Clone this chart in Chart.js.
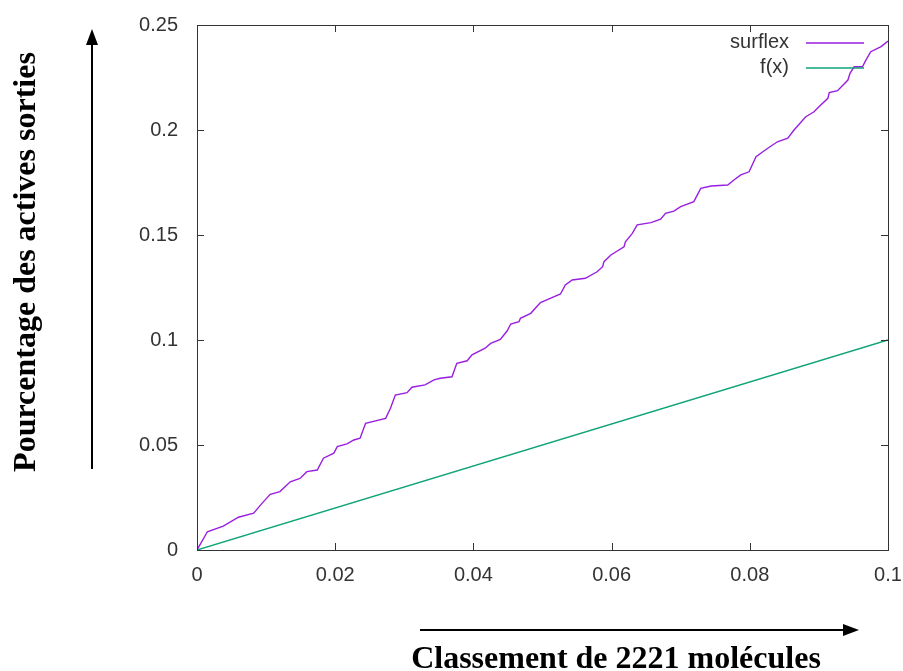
<!DOCTYPE html>
<html>
<head>
<meta charset="utf-8">
<script src="https://cdn.jsdelivr.net/npm/chart.js@4/dist/chart.umd.min.js"></script>
<style>
html,body{margin:0;padding:0;background:#fff;}
#wrap{width:903px;height:671px;position:relative;}
</style>
</head>
<body>
<div id="wrap"><canvas id="c" width="903" height="671"></canvas></div>
<script>
// ---- data ----
const surflexX = [0, 0.0015, 0.0038, 0.0060, 0.0082, 0.0094, 0.0106, 0.0120, 0.0135, 0.0149, 0.0159, 0.0174, 0.0183, 0.0198, 0.0203, 0.0217, 0.0227, 0.0236, 0.0244, 0.0273, 0.0280, 0.0287, 0.0304, 0.0311, 0.0330, 0.0343, 0.0352, 0.0369, 0.0376, 0.0391, 0.0398, 0.0417, 0.0425, 0.0439, 0.0449, 0.0454, 0.0466, 0.0468, 0.0483, 0.0497, 0.0512, 0.0526, 0.0533, 0.0543, 0.0562, 0.0579, 0.0587, 0.0589, 0.0599, 0.0618, 0.0620, 0.0630, 0.0637, 0.0657, 0.0671, 0.0678, 0.0690, 0.0700, 0.0719, 0.0729, 0.0744, 0.0768, 0.0777, 0.0787, 0.0799, 0.0809, 0.0826, 0.0840, 0.0855, 0.0864, 0.0881, 0.0893, 0.0900, 0.0913, 0.0915, 0.0927, 0.0942, 0.0945, 0.0951, 0.0963, 0.0968, 0.0975, 0.0990, 0.1000];
const surflexY = [0, 0.0087, 0.0114, 0.0156, 0.0175, 0.0222, 0.0265, 0.0278, 0.0325, 0.0341, 0.0373, 0.0381, 0.0437, 0.0461, 0.0492, 0.0505, 0.0524, 0.0532, 0.0603, 0.0627, 0.0675, 0.0738, 0.0749, 0.0775, 0.0786, 0.0810, 0.0818, 0.0825, 0.0889, 0.0901, 0.0929, 0.0961, 0.0984, 0.1003, 0.1044, 0.1076, 0.1087, 0.1103, 0.1127, 0.1178, 0.1199, 0.1219, 0.1262, 0.1286, 0.1294, 0.1325, 0.1349, 0.1373, 0.1405, 0.1444, 0.1468, 0.1508, 0.1548, 0.1559, 0.1575, 0.1603, 0.1614, 0.1635, 0.1659, 0.1722, 0.1733, 0.1738, 0.1762, 0.1786, 0.1801, 0.1873, 0.1913, 0.1944, 0.1961, 0.2000, 0.2063, 0.2087, 0.2111, 0.2151, 0.2178, 0.2187, 0.2238, 0.2270, 0.2301, 0.2301, 0.2333, 0.2373, 0.2397, 0.2423];
const fxX = [0, 0.1];
const fxY = [0, 0.1];
const seriesNames = ["surflex", "f(x)"];
const xTickLabels = ["0", "0.02", "0.04", "0.06", "0.08", "0.1"];
const yTickLabels = ["0", "0.05", "0.1", "0.15", "0.2", "0.25"];
const yAxisTitle = "Pourcentage des actives sorties";
const xAxisTitle = "Classement de 2221 molécules";

const PURPLE = "#9a1ee0";
const GREEN = "#0fa378";

const framePlugin = {
  id: 'frame',
  afterDatasetsDraw(chart) {
    const ctx = chart.ctx, a = chart.chartArea;
    const xs = chart.scales.x, ys = chart.scales.y;
    ctx.save();
    ctx.strokeStyle = "#333";
    ctx.lineWidth = 1;
    ctx.strokeRect(Math.round(a.left) + 0.5, Math.round(a.top) + 0.5, Math.round(a.right - a.left), Math.round(a.bottom - a.top));
    ctx.beginPath();
    const L = 7;
    xs.ticks.forEach(t => {
      const px = Math.round(xs.getPixelForValue(t.value)) + 0.5;
      ctx.moveTo(px, a.bottom); ctx.lineTo(px, a.bottom - L);
      ctx.moveTo(px, a.top); ctx.lineTo(px, a.top + L);
    });
    ys.ticks.forEach(t => {
      const py = Math.round(ys.getPixelForValue(t.value)) + 0.5;
      ctx.moveTo(a.left, py); ctx.lineTo(a.left + L, py);
      ctx.moveTo(a.right, py); ctx.lineTo(a.right - L, py);
    });
    ctx.stroke();

    // legend (gnuplot style: text then sample)
    ctx.font = "20px 'Liberation Sans', Arial, sans-serif";
    ctx.fillStyle = "#333";
    ctx.textAlign = "right";
    ctx.textBaseline = "middle";
    const rows = [42, 67];
    chart.data.datasets.forEach((ds, i) => {
      const y = rows[i];
      ctx.fillText(ds.label, 789, y);
      ctx.beginPath();
      ctx.strokeStyle = ds.borderColor;
      ctx.lineWidth = 1.3;
      ctx.moveTo(806, y + 1); ctx.lineTo(864, y + 1);
      ctx.stroke();
    });

    // axis titles
    ctx.fillStyle = "#000";
    ctx.font = "bold 32px 'Liberation Serif', 'Times New Roman', serif";
    ctx.textAlign = "center";
    ctx.textBaseline = "middle";
    ctx.save();
    ctx.translate(27, 262);
    ctx.rotate(-Math.PI / 2);
    ctx.fillText(yAxisTitle, 0, 0);
    ctx.restore();
    ctx.fillText(xAxisTitle, 616, 660);

    // arrows
    ctx.strokeStyle = "#000";
    ctx.fillStyle = "#000";
    ctx.lineWidth = 2;
    ctx.beginPath();
    ctx.moveTo(92, 469); ctx.lineTo(92, 40);
    ctx.stroke();
    ctx.beginPath();
    ctx.moveTo(92, 29); ctx.lineTo(86, 45); ctx.lineTo(98, 45); ctx.closePath(); ctx.fill();
    ctx.beginPath();
    ctx.moveTo(420, 630); ctx.lineTo(846, 630);
    ctx.stroke();
    ctx.beginPath();
    ctx.moveTo(859, 630); ctx.lineTo(843, 624); ctx.lineTo(843, 636); ctx.closePath(); ctx.fill();
    ctx.restore();
  }
};

new Chart(document.getElementById('c'), {
  type: 'scatter',
  data: {
    datasets: [
      {
        label: seriesNames[0],
        data: surflexX.map((x, i) => ({x: x, y: surflexY[i]})),
        showLine: true, borderColor: PURPLE, backgroundColor: PURPLE,
        borderWidth: 1.4, pointRadius: 0, tension: 0, order: 1
      },
      {
        label: seriesNames[1],
        data: fxX.map((x, i) => ({x: x, y: fxY[i]})),
        showLine: true, borderColor: GREEN, backgroundColor: GREEN,
        borderWidth: 1.4, pointRadius: 0, tension: 0, order: 0
      }
    ]
  },
  options: {
    responsive: false,
    animation: false,
    events: [],
    layout: { padding: { left: 0, right: 15, top: 25, bottom: 0 } },
    plugins: { legend: { display: false }, tooltip: { enabled: false } },
    scales: {
      x: {
        type: 'linear', min: 0, max: 0.1,
        afterFit(s) { s.height = 121; s.paddingLeft = 0; s.paddingRight = 0; },
        grid: { display: false },
        border: { display: false },
        ticks: {
          stepSize: 0.02, padding: 5, color: "#333",
          font: { family: "'Liberation Sans', Arial, sans-serif", size: 20 },
          maxRotation: 0,
          callback: (v, i) => xTickLabels[i]
        }
      },
      y: {
        type: 'linear', min: 0, max: 0.25,
        afterFit(s) { s.width = 197; s.paddingTop = 0; s.paddingBottom = 0; },
        grid: { display: false },
        border: { display: false },
        ticks: {
          stepSize: 0.05, padding: 11, color: "#333",
          font: { family: "'Liberation Sans', Arial, sans-serif", size: 20 },
          callback: (v, i) => yTickLabels[i]
        }
      }
    }
  },
  plugins: [framePlugin]
});
</script>
</body>
</html>
